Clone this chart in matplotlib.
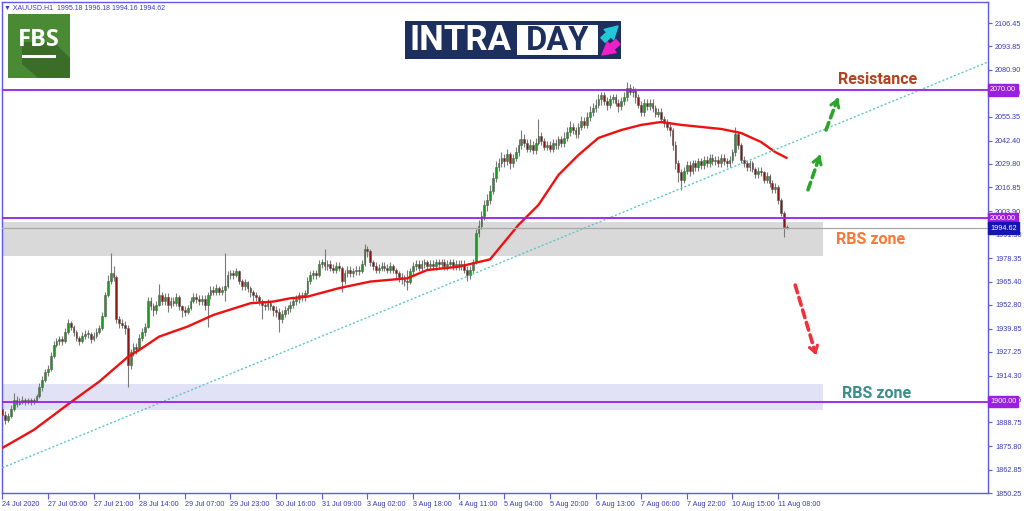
import matplotlib
matplotlib.use('Agg')
import matplotlib.pyplot as plt
from matplotlib.patches import Rectangle, Polygon
from matplotlib.transforms import blended_transform_factory
import numpy as np

# ---------------- data ----------------
first_open = 1896
closes = [
    1893, 1890, 1892, 1896, 1901, 1899, 1900, 1901, 1900, 1901,
    1900, 1901, 1903, 1908, 1912, 1916, 1918, 1925, 1931, 1933,
    1934, 1933, 1938, 1943, 1941, 1938, 1935, 1933, 1936, 1937,
    1937, 1934, 1936, 1938, 1940, 1947, 1958, 1966, 1970, 1968,
    1945, 1943, 1942, 1940, 1920, 1927, 1930, 1929, 1935, 1938,
    1941, 1955, 1952, 1950, 1953, 1958, 1955, 1957, 1953, 1955,
    1954, 1957, 1952, 1950, 1949, 1951, 1955, 1957, 1956, 1955,
    1956, 1953, 1958, 1961, 1960, 1962, 1960, 1961, 1963, 1969,
    1970, 1969, 1971, 1966, 1963, 1965, 1962, 1960, 1958, 1957,
    1955, 1953, 1952, 1954, 1952, 1950, 1949, 1945, 1948, 1950,
    1951, 1953, 1955, 1956, 1958, 1957, 1959, 1966, 1969, 1970,
    1969, 1975, 1976, 1974, 1975, 1973, 1972, 1974, 1973, 1966,
    1970, 1972, 1970, 1971, 1972, 1971, 1975, 1983, 1982, 1976,
    1974, 1972, 1973, 1974, 1973, 1972, 1974, 1972, 1970, 1968,
    1967, 1966, 1965, 1971, 1974, 1975, 1973, 1975, 1976, 1974,
    1975, 1974, 1976, 1975, 1976, 1974, 1975, 1976, 1974, 1975,
    1974, 1975, 1972, 1969, 1972, 1976, 1992, 1996, 2001, 2007,
    2010, 2015, 2022, 2028, 2030, 2033, 2031, 2035, 2030, 2033,
    2036, 2040, 2043, 2041, 2038, 2040, 2037, 2041, 2045, 2042,
    2039, 2040, 2038, 2041, 2040, 2043, 2041, 2044, 2047, 2050,
    2048, 2046, 2050, 2053, 2051, 2055, 2058, 2060, 2062, 2065,
    2067, 2064, 2062, 2065, 2066, 2063, 2061, 2064, 2066, 2071,
    2069, 2070, 2066, 2062, 2058, 2063, 2061, 2063, 2060, 2057,
    2058, 2054, 2052, 2050, 2048, 2040, 2030, 2025, 2021, 2026,
    2029, 2026, 2030, 2028, 2031, 2029, 2032, 2030, 2033, 2031,
    2032, 2030, 2033, 2031, 2030, 2032, 2036, 2046, 2040, 2032,
    2030, 2028, 2030, 2027, 2024, 2026, 2025, 2021, 2023, 2019,
    2016, 2017, 2010, 2003, 1995.18, 1994.62,
]
highs = [
    1898, 1895, 1894, 1898, 1905, 1903, 1902, 1903, 1902, 1902,
    1902, 1902, 1904, 1910, 1914, 1918, 1920, 1927, 1933, 1935,
    1936, 1936, 1940, 1945, 1944, 1942, 1939, 1936, 1938, 1939,
    1939, 1938, 1938, 1940, 1942, 1949, 1960, 1969, 1981, 1974,
    1969, 1947, 1945, 1944, 1942, 1929, 1932, 1932, 1937, 1940,
    1943, 1957, 1957, 1954, 1955, 1964, 1960, 1959, 1959, 1957,
    1957, 1959, 1958, 1953, 1952, 1953, 1957, 1959, 1959, 1958,
    1958, 1958, 1960, 1963, 1963, 1964, 1963, 1963, 1981, 1971,
    1972, 1972, 1973, 1972, 1967, 1967, 1966, 1963, 1961, 1960,
    1958, 1956, 1955, 1956, 1955, 1953, 1952, 1951, 1950, 1952,
    1953, 1955, 1957, 1958, 1960, 1960, 1961, 1968, 1971, 1972,
    1972, 1977, 1978, 1983, 1977, 1977, 1975, 1976, 1976, 1974,
    1972, 1974, 1974, 1973, 1974, 1974, 1977, 1986, 1985, 1983,
    1977, 1976, 1975, 1976, 1976, 1975, 1976, 1975, 1973, 1971,
    1970, 1969, 1972, 1973, 1976, 1977, 1977, 1977, 1978, 1977,
    1977, 1977, 1978, 1978, 1978, 1978, 1977, 1978, 1978, 1977,
    1977, 1977, 1977, 1974, 1974, 1978, 1994, 1999, 2004, 2010,
    2013, 2018, 2025, 2031, 2033, 2036, 2035, 2038, 2036, 2035,
    2039, 2043, 2048, 2046, 2043, 2043, 2042, 2044, 2054, 2047,
    2044, 2042, 2042, 2043, 2043, 2045, 2045, 2047, 2050, 2053,
    2052, 2050, 2052, 2056, 2055, 2058, 2061, 2063, 2065, 2068,
    2069, 2069, 2066, 2067, 2068, 2068, 2065, 2066, 2069, 2074.5,
    2073, 2072, 2071, 2068, 2064, 2065, 2065, 2065, 2065, 2062,
    2060, 2060, 2056, 2054, 2052, 2049, 2042, 2032, 2027, 2028,
    2031, 2031, 2032, 2032, 2033, 2033, 2034, 2034, 2035, 2035,
    2034, 2034, 2035, 2035, 2033, 2034, 2038, 2049.7, 2047, 2041,
    2034, 2032, 2032, 2031, 2028, 2028, 2028, 2026, 2025, 2024,
    2021, 2019, 2018, 2011, 2004, 1996.18,
]
lows = [
    1887, 1888, 1889, 1891, 1895, 1897, 1898, 1899, 1898, 1899,
    1898, 1899, 1900, 1902, 1906, 1911, 1914, 1917, 1924, 1930,
    1931, 1931, 1932, 1937, 1939, 1936, 1933, 1931, 1932, 1934,
    1935, 1932, 1933, 1935, 1937, 1939, 1946, 1957, 1964, 1966,
    1943, 1940, 1940, 1937, 1908, 1918, 1925, 1926, 1928, 1933,
    1936, 1940, 1950, 1947, 1948, 1952, 1953, 1953, 1949, 1951,
    1952, 1952, 1950, 1946, 1947, 1948, 1950, 1954, 1954, 1953,
    1953, 1950, 1941, 1956, 1958, 1958, 1958, 1958, 1955, 1962,
    1967, 1967, 1968, 1964, 1961, 1961, 1960, 1957, 1955, 1955,
    1953, 1945, 1950, 1950, 1950, 1947, 1946, 1938, 1943, 1946,
    1948, 1949, 1951, 1953, 1954, 1955, 1955, 1958, 1964, 1967,
    1967, 1968, 1973, 1972, 1972, 1971, 1970, 1970, 1971, 1960,
    1964, 1968, 1968, 1968, 1969, 1969, 1970, 1974, 1979, 1974,
    1972, 1970, 1970, 1971, 1971, 1970, 1970, 1970, 1967, 1965,
    1964, 1963, 1961, 1964, 1969, 1972, 1971, 1971, 1973, 1972,
    1972, 1972, 1972, 1973, 1973, 1972, 1972, 1973, 1972, 1972,
    1972, 1972, 1970, 1966, 1967, 1970, 1975, 1990, 1994, 1999,
    2004, 2008, 2013, 2020, 2026, 2028, 2028, 2029, 2027, 2028,
    2031, 2034, 2038, 2039, 2036, 2036, 2035, 2035, 2040, 2040,
    2037, 2037, 2036, 2036, 2038, 2038, 2039, 2039, 2042, 2045,
    2046, 2044, 2044, 2048, 2049, 2049, 2053, 2056, 2058, 2060,
    2062, 2062, 2059, 2060, 2063, 2061, 2058, 2059, 2062, 2064,
    2067, 2066, 2063, 2060, 2056, 2056, 2059, 2059, 2058, 2055,
    2055, 2052, 2050, 2048, 2045, 2037, 2027, 2020, 2015.5, 2019,
    2024, 2023, 2024, 2026, 2026, 2027, 2027, 2028, 2028, 2029,
    2029, 2028, 2028, 2029, 2028, 2028, 2030, 2034, 2038, 2030,
    2028, 2026, 2026, 2025, 2022, 2022, 2023, 2019, 2019, 2017,
    2014, 2014, 2008, 2001, 1990, 1994.16,
]

# moving average (bar index, price)
ma_bars = [0, 11, 24, 34, 44, 48, 55, 65, 74, 87, 95, 101, 107, 118, 129, 142,
           149, 160, 171, 181, 188, 195, 202, 209, 217, 224, 231, 238, 245,
           252, 259, 266, 271, 275]
ma_vals = [1874.8, 1884.6, 1899.7, 1911.0, 1924.4, 1928.2, 1935.5, 1941.0,
           1947.3, 1953.7, 1954.6, 1956.4, 1957.3, 1961.9, 1965.5, 1967.3,
           1971.8, 1973.6, 1977.6, 1996.4, 2007.3, 2023.6, 2034.5, 2043.8,
           2048.1, 2050.9, 2052.5, 2050.9, 2049.8, 2048.7, 2046.5, 2041.6,
           2036.1, 2032.9]

trend_bars = [0, 345.6]
trend_vals = [1864.0, 2085.2]

levels = [2070.0, 2000.0, 1900.0]
current_price = 1994.62
zone_upper = (1979.4, 1997.9)
zone_lower = (1895.5, 1909.7)
zone_end_bar = 287.7

y_ticks = [2106.45, 2093.85, 2080.90, 2068.30, 2055.35, 2042.40, 2029.80,
           2016.85, 2003.90, 1991.30, 1978.35, 1965.40, 1952.80, 1939.85,
           1927.25, 1914.30, 1901.35, 1888.75, 1875.80, 1862.85, 1850.25]
x_labels = ["24 Jul 2020", "27 Jul 05:00", "27 Jul 21:00", "28 Jul 14:00",
            "29 Jul 07:00", "29 Jul 23:00", "30 Jul 16:00", "31 Jul 09:00",
            "3 Aug 02:00", "3 Aug 18:00", "4 Aug 11:00", "5 Aug 04:00",
            "5 Aug 20:00", "6 Aug 13:00", "7 Aug 06:00", "7 Aug 22:00",
            "10 Aug 15:00", "11 Aug 08:00"]
x_label_step = 16

# ---------------- figure ----------------
W, H = 1024, 511
fig = plt.figure(figsize=(W / 100, H / 100), dpi=100)
fig.patch.set_facecolor('white')
ax = fig.add_axes([2 / W, 18 / H, 986 / W, 491 / H])
ax.set_xlim(-0.1, 345.6)
ax.set_ylim(1850.25, 2117.9)

FRAME = '#5b5be8'
TXT = '#3a3ab8'
PURPLE = '#9b1fe0'
TFONT = ['Liberation Sans', 'DejaVu Sans']

for s in ax.spines.values():
    s.set_color(FRAME)
    s.set_linewidth(1.0)

# zones
ax.add_patch(Rectangle((-0.1, zone_upper[0]), zone_end_bar + 0.1,
                       zone_upper[1] - zone_upper[0], facecolor='#d9d9d9',
                       edgecolor='none', zorder=0))
ax.add_patch(Rectangle((-0.1, zone_lower[0]), zone_end_bar + 0.1,
                       zone_lower[1] - zone_lower[0], facecolor='#e2e2f7',
                       edgecolor='none', zorder=0))

# candles
n = len(closes)
opens = [first_open] + closes[:-1]
xs = np.arange(n)
o = np.array(opens, dtype=float)
c = np.array(closes, dtype=float)
hi = np.array(highs, dtype=float)
lo = np.array(lows, dtype=float)
ax.vlines(xs, lo, hi, color='#7a7a7a', linewidth=0.8, zorder=2)
bull = c >= o
body_lo = np.minimum(o, c)
body_h = np.maximum(np.abs(c - o), 0.35)
ax.bar(xs[bull], body_h[bull], bottom=body_lo[bull], width=0.62,
       color='#1c9c1c', edgecolor='#5a5a5a', linewidth=0.4, zorder=3)
ax.bar(xs[~bull], body_h[~bull], bottom=body_lo[~bull], width=0.62,
       color='#8e1414', edgecolor='#5a5a5a', linewidth=0.4, zorder=3)

# moving average
ax.plot(ma_bars, ma_vals, color='#f01010', linewidth=1.7, zorder=4,
        solid_capstyle='round', solid_joinstyle='round')

# trendline
ax.plot(trend_bars, trend_vals, color='#5cc6c6', linewidth=1.0,
        linestyle=(0, (1.5, 1.5)), zorder=4)

# levels
for lv in levels:
    ax.axhline(lv, color=PURPLE, linewidth=1.3, zorder=5)
ax.axhline(current_price, color='#a8a8a8', linewidth=0.9, zorder=5)

# right axis
ax.yaxis.tick_right()
ax.set_yticks(y_ticks)
ax.set_yticklabels([f"{v:.2f}" for v in y_ticks])
ax.tick_params(axis='y', colors=FRAME, labelcolor=TXT, labelsize=5.2,
               length=3, width=0.8, pad=2)
for t in ax.get_yticklabels():
    t.set_family(TFONT)

# bottom axis
xt = [i * x_label_step for i in range(len(x_labels))]
ax.set_xticks(xt)
ax.set_xticklabels(x_labels, ha='left')
ax.tick_params(axis='x', colors=FRAME, labelcolor=TXT, labelsize=5.2,
               length=4, width=0.8, pad=2)
for t in ax.get_xticklabels():
    t.set_family(TFONT)

# price boxes on the right axis
bt = blended_transform_factory(ax.transAxes, ax.transData)
for lv in levels:
    ax.text(1.002, lv, f"{lv:.2f}", transform=bt, ha='left', va='center',
            fontsize=5.2, color='white', family=TFONT, zorder=10,
            clip_on=False,
            bbox=dict(boxstyle='square,pad=0.3', facecolor=PURPLE,
                      edgecolor=PURPLE))
ax.text(1.002, current_price, f"{current_price:.2f}", transform=bt,
        ha='left', va='center', fontsize=5.2, color='white', family=TFONT,
        zorder=10, clip_on=False,
        bbox=dict(boxstyle='square,pad=0.3', facecolor='#1414b4',
                  edgecolor='#1414b4'))

# header
fig.text(4 / W, 1 - 8 / H, "\u25BC XAUUSD.H1  1995.18 1996.18 1994.16 1994.62",
         fontsize=5, color='#3c3cd0', family=TFONT, va='center', ha='left')

# annotations
ax.text(293, 2071.5, "Resistance", fontsize=11.5, fontweight='bold',
        color='#b2431c', family=['Roboto', 'DejaVu Sans'], ha='left',
        va='bottom', zorder=6)
ax.text(292.2, 1988.5, "RBS zone", fontsize=11.5, fontweight='bold',
        color='#f57a3a', family=['Roboto', 'DejaVu Sans'], ha='left',
        va='center', zorder=6)
ax.text(294.5, 1904.5, "RBS zone", fontsize=11.5, fontweight='bold',
        color='#3a8f8c', family=['Roboto', 'DejaVu Sans'], ha='left',
        va='center', zorder=6)


def dashed_arrow(x0, y0, x1, y1, color):
    ax.annotate('', xy=(x1, y1), xytext=(x0, y0),
                arrowprops=dict(arrowstyle='-', color=color, lw=2.6,
                                linestyle=(0, (2.2, 1.4)),
                                shrinkA=0, shrinkB=2),
                zorder=6)
    dx, dy = x1 - x0, y1 - y0
    ax.annotate('', xy=(x1, y1), xytext=(x1 - dx * 0.05, y1 - dy * 0.05),
                arrowprops=dict(arrowstyle='->,head_length=0.45,head_width=0.3',
                                color=color, lw=2.2, shrinkA=0, shrinkB=0),
                zorder=6)


dashed_arrow(282.5, 2015.5, 286.7, 2034.5, '#2aa62a')
dashed_arrow(288.8, 2048.1, 293.0, 2065.6, '#2aa62a')
dashed_arrow(278.0, 1963.6, 285.3, 1925.5, '#f0303a')

# FBS logo
lax = fig.add_axes([8 / W, 1 - 78 / H, 62 / W, 64 / H])
lax.set_xlim(0, 62)
lax.set_ylim(0, 64)
lax.axis('off')
lax.add_patch(Rectangle((0, 0), 62, 64, facecolor='#4a8a34', edgecolor='none'))
lax.add_patch(Polygon([(14, 36), (46, 36), (62, 20), (62, 0), (30, 0), (14, 14)],
                      closed=True, facecolor='#3a6e28', edgecolor='none'))
lax.text(31, 38, "FBS", fontsize=17, fontweight='bold', color='white',
         ha='center', va='center', family=['Open Sans', 'DejaVu Sans'])
lax.add_patch(Rectangle((14, 20), 34, 3, facecolor='white', edgecolor='none'))

# INTRADAY logo
iax = fig.add_axes([405 / W, 1 - 59 / H, 216 / W, 38 / H])
iax.set_xlim(0, 216)
iax.set_ylim(0, 38)
iax.axis('off')
iax.add_patch(Rectangle((0, 0), 216, 38, facecolor='#1c2f5e', edgecolor='none'))
iax.add_patch(Rectangle((112, 4), 81, 30, facecolor='white', edgecolor='none'))
iax.text(5, 18.5, "INTRA", fontsize=25, fontweight='bold', color='white',
         ha='left', va='center', family=['Roboto', 'DejaVu Sans'])
iax.text(152.5, 18.5, "DAY", fontsize=23.5, fontweight='bold', color='#1c2f5e',
         ha='center', va='center', family=['Roboto', 'DejaVu Sans'])
iax.annotate('', xy=(213, 33), xytext=(198, 19),
             arrowprops=dict(arrowstyle='simple,head_length=0.9,head_width=1.0,tail_width=0.45',
                             color='#20c8d8', shrinkA=0, shrinkB=0))
iax.annotate('', xy=(197, 4), xytext=(213, 17),
             arrowprops=dict(arrowstyle='simple,head_length=0.9,head_width=1.0,tail_width=0.45',
                             color='#f020c8', shrinkA=0, shrinkB=0))

fig.savefig('out.png', dpi=100, facecolor='white')
